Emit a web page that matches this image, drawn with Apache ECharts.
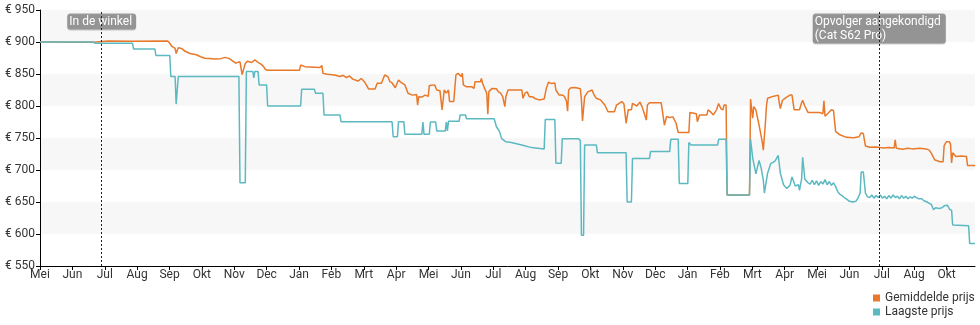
<!DOCTYPE html>
<html>
<head>
<meta charset="utf-8">
<script src="https://cdn.jsdelivr.net/npm/echarts@6/dist/echarts.min.js"></script>
<style>
  html, body { margin: 0; padding: 0; background: #fff; }
  #chart { width: 980px; height: 325px; }
</style>
</head>
<body>
<div id="chart"></div>
<script>
// Prijsverloop Cat S61: dagen gerekend vanaf 1 mei 2018
const MONTH = 30.4375;
const monthLabels = ['Mei','Jun','Jul','Aug','Sep','Okt','Nov','Dec','Jan','Feb','Mrt','Apr',
                     'Mei','Jun','Jul','Aug','Sep','Okt','Nov','Dec','Jan','Feb','Mrt','Apr',
                     'Mei','Jun','Jul','Aug','Okt'];
const seriesNames = ['Gemiddelde prijs', 'Laagste prijs'];
const events = [
  { day: 58,  text: 'In de winkel' },
  { day: 789, text: 'Opvolger aangekondigd\n(Cat S62 Pro)' }
];

// [dag, prijs in euro]
const gemiddeldePrijs = [
  [0,900],[50,899.5],[56,900.5],[64,901.5],[87,901],[120,901.5],[122,898],[124,893],[127,890],[128,882],
  [130,891],[133,890],[136,886],[141,882],[147,880],[151,877],[155,874.5],[165,873.5],[170,874],[174,876],
  [178,874],[184,867],[188,869],[190,849],[193,866.5],[195,870],[199,868],[202,872],[205,868],[208,865],
  [210,862],[212,857],[214,856],[244,856],[245,864],[249,861.5],[263,860],[265,863],[266,851],[270,849.5],
  [277,848.5],[282,846],[285,848],[288,844.5],[291,847],[294,842],[299,839],[302,843],[305,838],[309,826.5],
  [315,826.5],[317,835.5],[321,835.5],[324,848.5],[327,846],[329,838],[331,836],[334,828.5],[337,840.5],[340,836],
  [343,833],[346,820],[350,817],[354,818],[355,801.5],[356,814.5],[359,814],[362,817],[365,815],[366,832],
  [371,833],[373,825],[376,824],[378,794],[380,825],[382,820],[384,825],[385,807],[389,807],[390,809.5],
  [391,848.5],[393,851],[396,846],[397,851],[398,833],[401,830],[406,830],[408,827.5],[409,838],[414,838],
  [415,843],[416,836],[418,827.5],[420,820],[421,787],[422,822.5],[425,827.5],[429,827],[431,822],[433,820],
  [435,814.5],[437,799],[438,815],[440,825],[453,825],[454,812],[456,820],[458,822],[460,814.5],[463,814.5],
  [465,812],[469,809.5],[474,811],[476,827.5],[478,837],[481,835],[484,836],[485,825],[488,817],[491,817],
  [493,815],[495,807],[496,792],[497,825],[499,828.5],[503,829],[508,827],[509,809.5],[510,776.5],[512,814.5],
  [515,822],[519,825],[521,817],[523,812],[527,809.5],[531,801.5],[534,791],[540,791],[542,801.5],[547,807],
  [549,803],[551,773],[553,794],[556,794],[557,804],[561,800],[564,806],[566,799],[570,778],[571,801.5],
  [573,805],[584,805],[585,794],[587,770],[589,783.5],[592,782],[595,783],[598,773],[600,758.5],[610,758.5],
  [611,790],[617,788],[618,775.5],[620,786],[627,786],[628,794],[631,790],[633,786],[636,794],[638,804],
  [640,796],[642,794],[643,801.5],[645,801.5],[646,661],[667,661],[668,811],[670,781],[671,799],[673,794],
  [676,770],[679,744],[680,731],[682,775],[683,801],[684,812],[689,815],[694,817],[695,805],[696,796],
  [698,809],[702,814],[705,817],[707,817],[708,805],[709,794],[714,794],[716,805],[717,809],[719,800],
  [722,790],[733,790],[736,788],[737,808],[738,784],[744,794],[746,793],[747,776],[748,760],[752,755],
  [758,751],[765,750.5],[770,752],[772,758],[774,757],[776,737.5],[780,735.5],[786,736],[790,735],[793,734.5],
  [798,735],[803,734.5],[804,747],[805,734],[811,732.5],[816,734],[820,733],[827,734],[833,733],[836,731],
  [838,726],[841,716],[846,713],[849,713],[850,738],[852,744],[855,744],[856,740],[857,711],[858,727],
  [861,721],[866,722],[871,721],[872,707],[879,707]
];

const laagstePrijs = [
  [0,900],[50,900],[52,898],[87,898],[88,889],[108,889],[109,879],[122,879],[123,846],[127,846],
  [128,803],[129,803],[130,846],[187,846],[188,680],[193,680],[194,854],[200,854],[201,844],[202,854],
  [205,854],[206,833],[213,833],[214,800],[245,800],[246,826],[258,826],[259,820],[266,820],[267,786],
  [282,786],[283,775.5],[331,775.5],[332,752],[336,752],[337,775.5],[342,775.5],[343,756],[359,756],[360,775],
  [361,756],[366,756],[367,775],[372,775],[373,761],[381,761],[382,775],[383,761],[384,776],[394,776],
  [395,786],[400,786],[401,780],[427,780],[429,768],[432,760],[434,749],[438,744],[443,743],[453,739],
  [462,735],[474,733],[475,779],[484,779],[485,710.5],[490,710.5],[491,749],[506,749],[508,746],[509,598],
  [511,598],[512,739],[523,739],[524,727],[551,727],[552,650],[556,650],[557,718],[573,718],[574,729],
  [592,729],[593,748],[600,748],[601,679],[609,679],[610,743],[612,739],[637,739],[638,748],[645,748],
  [646,661],[667,661],[668,748],[670,719],[673,694],[676,715],[678,703],[680,684],[681,664],[684,695],
  [687,710],[691,714],[694,723],[696,695],[699,677],[702,671],[705,676],[707,689],[710,675],[713,677],
  [714,668],[716,686],[717,720],[719,686],[722,680],[724,678],[726,684],[728,677],[730,683],[732,676],
  [734,682],[736,678],[738,685],[740,677],[742,682],[744,676],[746,680],[748,674],[750,666],[752,662],
  [754,660],[756,657],[758,655],[761,651],[764,650],[767,651],[769,656],[771,664],[772,697],[774,697],
  [776,664],[778,658],[780,657],[782,661],[784,656],[786,660],[788,657],[790,661],[792,656],[794,659],
  [796,655],[798,660],[800,656],[802,661],[804,657],[806,659],[808,655],[810,660],[812,656],[814,659],
  [816,655],[818,658],[820,656],[822,659],[824,657],[826,655],[829,655],[831,652],[834,650],[836,648],
  [838,646],[840,638],[842,641],[845,640],[848,641],[850,644],[853,645],[855,639],[857,637],[858,614],
  [873,613],[874,585],[879,585]
];

const tickValues = monthLabels.map((_, i) => i * MONTH);

const chart = echarts.init(document.getElementById('chart'), null, { renderer: 'canvas' });

const font = 'Roboto, "Noto Sans", sans-serif';

chart.setOption({
  animation: false,
  textStyle: { fontFamily: font },
  grid: { left: 40, right: 5, top: 10, bottom: 59, containLabel: false },
  legend: {
    orient: 'vertical',
    left: 873,
    top: 291,
    height: 40,
    padding: 0,
    icon: 'rect',
    itemWidth: 7,
    itemHeight: 7,
    itemGap: 0,
    selectedMode: false,
    textStyle: { fontSize: 12, color: '#333', fontFamily: font, lineHeight: 14 },
    data: seriesNames
  },
  xAxis: {
    type: 'value',
    min: 0,
    max: 879,
    axisLine: { show: true, onZero: false, lineStyle: { color: '#000', width: 1 } },
    axisTick: { show: true, length: 4, customValues: tickValues, lineStyle: { color: '#000' } },
    axisLabel: {
      customValues: tickValues,
      formatter: v => monthLabels[Math.round(v / MONTH)],
      margin: 3,
      fontSize: 12,
      color: '#333',
      fontFamily: font
    },
    splitLine: { show: false }
  },
  yAxis: {
    type: 'value',
    min: 550,
    max: 950,
    interval: 50,
    axisLine: { show: true, lineStyle: { color: '#000', width: 1 } },
    axisTick: { show: true, length: 4, lineStyle: { color: '#000' } },
    axisLabel: { formatter: '€ {value}', margin: 5, fontSize: 12, color: '#333', fontFamily: font },
    splitLine: { show: false },
    splitArea: { show: true, areaStyle: { color: ['#ffffff', '#f7f7f7'] } }
  },
  series: [
    {
      name: seriesNames[0],
      type: 'line',
      data: gemiddeldePrijs,
      showSymbol: false,
      symbol: 'none',
      color: '#e8792b',
      lineStyle: { width: 1.5, color: '#e8792b' }
    },
    {
      name: seriesNames[1],
      type: 'line',
      data: laagstePrijs,
      showSymbol: false,
      symbol: 'none',
      color: '#5cb9c2',
      lineStyle: { width: 1.5, color: '#5cb9c2' },
      markPoint: {
        silent: true,
        symbol: 'rect',
        symbolSize: 1,
        itemStyle: { color: 'rgba(0,0,0,0)' },
        data: events.map(e => ({
          coord: [e.day, 950],
          label: {
            show: true,
            position: 'bottom',
            distance: 3,
            formatter: e.text.split('\n').map(t => '{a|' + t + '}').join('\n'),
            backgroundColor: 'rgba(135,135,135,0.8)',
            borderRadius: 3,
            padding: [1, 4, 1, 2],
            shadowColor: 'rgba(0,0,0,0.25)',
            shadowOffsetY: 1,
            shadowBlur: 1,
            rich: {
              a: { color: '#fff', fontSize: 12, lineHeight: 14, fontFamily: font, align: 'left',
                   width: e.text.indexOf('\n') >= 0 ? 127 : null }
            }
          }
        }))
      },
      markLine: {
        silent: true,
        symbol: ['none', 'none'],
        z: 10,
        label: { show: false },
        lineStyle: { type: [2, 2], color: '#222', width: 1 },
        data: events.map(e => ({ xAxis: e.day }))
      }
    }
  ]
});
</script>
</body>
</html>
